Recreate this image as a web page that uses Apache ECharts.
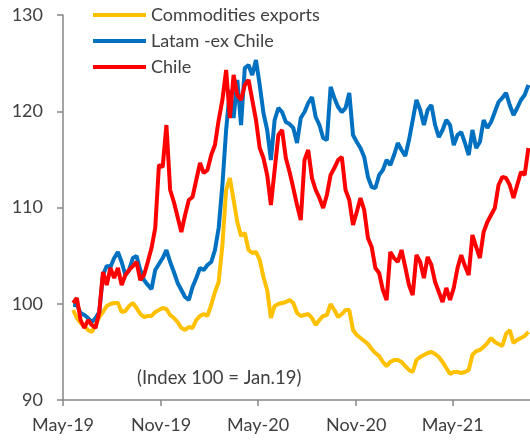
<!DOCTYPE html>
<html>
<head>
<meta charset="utf-8">
<style>
  html, body { margin: 0; padding: 0; background: #ffffff; }
  #chart { width: 530px; height: 440px; }
</style>
<script src="https://cdn.jsdelivr.net/npm/echarts@6/dist/echarts.min.js"></script>
</head>
<body>
<div id="chart"></div>
<script>
// Weekly observations, index 100 = Jan.19
const dates = [
  '2019-05-20','2019-05-27','2019-06-03','2019-06-10','2019-06-17','2019-06-24','2019-07-01','2019-07-08','2019-07-15','2019-07-22',
  '2019-07-29','2019-08-05','2019-08-12','2019-08-19','2019-08-26','2019-09-02','2019-09-09','2019-09-16','2019-09-23','2019-09-30',
  '2019-10-07','2019-10-14','2019-10-21','2019-10-28','2019-11-04','2019-11-11','2019-11-18','2019-11-25','2019-12-02','2019-12-09',
  '2019-12-16','2019-12-23','2019-12-30','2020-01-06','2020-01-13','2020-01-20','2020-01-27','2020-02-03','2020-02-10','2020-02-17',
  '2020-02-24','2020-03-02','2020-03-09','2020-03-16','2020-03-23','2020-03-30','2020-04-06','2020-04-13','2020-04-20','2020-04-27',
  '2020-05-04','2020-05-11','2020-05-18','2020-05-25','2020-06-01','2020-06-08','2020-06-15','2020-06-22','2020-06-29','2020-07-06',
  '2020-07-13','2020-07-20','2020-07-27','2020-08-03','2020-08-10','2020-08-17','2020-08-24','2020-08-31','2020-09-07','2020-09-14',
  '2020-09-21','2020-09-28','2020-10-05','2020-10-12','2020-10-19','2020-10-26','2020-11-02','2020-11-09','2020-11-16','2020-11-23',
  '2020-11-30','2020-12-07','2020-12-14','2020-12-21','2020-12-28','2021-01-04','2021-01-11','2021-01-18','2021-01-25','2021-02-01',
  '2021-02-08','2021-02-15','2021-02-22','2021-03-01','2021-03-08','2021-03-15','2021-03-22','2021-03-29','2021-04-05','2021-04-12',
  '2021-04-19','2021-04-26','2021-05-03','2021-05-10','2021-05-17','2021-05-24','2021-05-31','2021-06-07','2021-06-14','2021-06-21',
  '2021-06-28','2021-07-05','2021-07-12','2021-07-19','2021-07-26','2021-08-02','2021-08-09','2021-08-16','2021-08-23','2021-08-30',
  '2021-09-06','2021-09-13','2021-09-20'
];

const commodities = [
  99.35, 98.52, 97.99, 97.69, 97.27, 97.07, 97.79, 98.62, 99.14, 99.77,
  99.97, 100.08, 100.08, 99.14, 99.25, 99.77, 100.08, 99.56, 98.93, 98.62,
  98.73, 98.73, 99.14, 99.35, 99.56, 99.45, 98.83, 98.52, 98.10, 97.48,
  97.27, 97.58, 97.48, 98.31, 98.73, 98.93, 98.73, 99.87, 101.22, 102.26,
  106.10, 111.82, 113.06, 110.78, 108.49, 107.04, 107.35, 105.58, 105.27, 105.38,
  104.55, 102.78, 101.43, 98.52, 99.77, 99.97, 100.08, 100.18, 100.39, 100.08,
  99.04, 98.73, 98.83, 98.93, 98.52, 97.79, 98.31, 98.73, 98.83, 99.97,
  99.35, 98.62, 98.93, 99.35, 99.35, 97.27, 96.75, 96.44, 96.13, 95.82,
  95.30, 94.88, 94.57, 93.95, 93.53, 93.95, 94.16, 94.16, 93.95, 93.53,
  93.12, 92.91, 94.16, 94.47, 94.68, 94.88, 94.99, 94.78, 94.47, 93.95,
  93.32, 92.70, 92.91, 92.91, 92.81, 92.91, 93.12, 94.68, 95.09, 95.19,
  95.51, 95.92, 96.44, 96.03, 95.82, 95.61, 96.86, 97.27, 95.92, 96.23,
  96.44, 96.65, 97.07
];

const latamExChile = [
  99.87, 99.87, 99.04, 98.83, 98.52, 98.10, 98.52, 99.14, 102.99, 103.92,
  103.82, 104.75, 105.38, 104.34, 102.99, 103.51, 104.75, 104.96, 103.51, 102.47,
  101.95, 101.53, 103.51, 104.13, 104.75, 105.58, 104.34, 103.30, 102.16, 101.43,
  100.70, 100.39, 101.74, 102.67, 103.71, 103.51, 104.03, 104.34, 105.58, 107.87,
  112.34, 118.05, 122.21, 119.30, 123.25, 118.57, 124.49, 124.80, 123.77, 125.32,
  122.73, 119.82, 118.05, 114.93, 119.09, 120.34, 119.92, 118.88, 118.67, 118.26,
  116.70, 119.30, 119.92, 120.86, 121.48, 119.40, 118.57, 117.22, 117.01, 122.52,
  121.38, 120.44, 119.92, 120.34, 121.90, 117.53, 116.80, 116.18, 115.25, 113.17,
  112.13, 112.02, 113.38, 113.90, 114.93, 114.41, 115.45, 116.70, 115.97, 115.35,
  117.01, 119.09, 121.17, 120.13, 118.57, 120.13, 120.65, 118.57, 117.32, 118.05,
  119.09, 118.57, 116.49, 117.53, 117.84, 116.70, 115.45, 118.05, 116.18, 116.80,
  119.09, 118.26, 118.88, 119.92, 120.96, 121.38, 121.90, 120.65, 119.61, 120.34,
  121.17, 121.69, 122.73
];

const chile = [
  100.08, 100.60, 98.31, 97.48, 98.31, 97.79, 97.48, 99.14, 103.30, 101.95,
  103.71, 102.67, 103.71, 101.95, 102.99, 103.51, 103.92, 104.34, 102.47, 102.99,
  104.34, 105.79, 107.87, 114.42, 114.21, 118.57, 111.82, 110.57, 109.02, 107.46,
  109.22, 110.78, 111.09, 112.86, 114.62, 113.58, 113.90, 115.45, 116.49, 119.09,
  121.17, 124.29, 119.30, 123.77, 121.69, 121.17, 122.73, 123.25, 121.17, 119.09,
  116.18, 115.14, 113.38, 110.26, 113.90, 117.53, 118.05, 115.14, 113.69, 112.02,
  110.26, 108.70, 114.93, 115.97, 113.06, 111.82, 110.99, 109.95, 111.30, 113.38,
  114.10, 114.93, 115.25, 111.82, 110.78, 108.18, 109.53, 110.99, 109.74, 106.83,
  105.90, 103.71, 103.19, 101.43, 100.39, 105.38, 104.75, 104.34, 105.58, 103.82,
  101.95, 100.91, 105.06, 104.34, 102.67, 104.86, 104.03, 102.26, 101.22, 100.18,
  101.64, 100.39, 101.64, 103.71, 105.06, 103.92, 102.99, 107.14, 105.90, 104.75,
  107.46, 108.49, 109.22, 109.95, 112.34, 113.17, 113.06, 112.34, 110.99, 112.34,
  113.69, 113.38, 116.18
];

// Six-monthly ticks along the date axis
const tickDates = ['2019-05-01', '2019-11-01', '2020-05-01', '2020-11-01', '2021-05-01'];
const monthNames = ['Jan','Feb','Mar','Apr','May','Jun','Jul','Aug','Sep','Oct','Nov','Dec'];

const FONT = 'Lato, "Open Sans", sans-serif';
const TEXT_COLOR = '#404040';
const AXIS_COLOR = '#868686';

const toTime = d => Date.parse(d + 'T00:00:00Z');
const pairs = arr => arr.map((v, i) => [toTime(dates[i]), v]);
const tickTimes = tickDates.map(toTime);

const chart = echarts.init(document.getElementById('chart'), null, { renderer: 'canvas' });

chart.setOption({
  backgroundColor: '#ffffff',
  animation: false,
  grid: { left: 63, right: 0, top: 15, bottom: 40, containLabel: false },
  legend: {
    orient: 'vertical',
    left: 93,
    top: 5,
    padding: 0,
    itemWidth: 53,
    itemHeight: 4,
    itemGap: 6,
    icon: 'rect',
    textStyle: { fontFamily: FONT, fontSize: 18, color: TEXT_COLOR, lineHeight: 20 },
    data: ['Commodities exports', 'Latam -ex Chile', 'Chile']
  },
  xAxis: {
    type: 'value',
    min: toTime('2019-05-01'),
    max: toTime('2021-09-23'),
    splitLine: { show: false },
    axisLine: { show: true, lineStyle: { color: AXIS_COLOR, width: 1.5 } },
    axisTick: { show: true, length: 6, customValues: tickTimes, lineStyle: { color: AXIS_COLOR, width: 1.5 } },
    axisLabel: {
      customValues: tickTimes,
      margin: 16,
      fontFamily: FONT,
      fontSize: 18,
      color: TEXT_COLOR,
      formatter: v => {
        const d = new Date(v);
        return monthNames[d.getUTCMonth()] + '-' + String(d.getUTCFullYear()).slice(2);
      }
    }
  },
  yAxis: {
    type: 'value',
    min: 90,
    max: 130,
    interval: 10,
    splitLine: { show: false },
    axisLine: { show: true, lineStyle: { color: AXIS_COLOR, width: 1.5 } },
    axisTick: { show: true, length: 6, lineStyle: { color: AXIS_COLOR, width: 1.5 } },
    axisLabel: { margin: 20, fontFamily: FONT, fontSize: 18, color: TEXT_COLOR }
  },
  graphic: [{
    type: 'text',
    left: 137,
    top: 369,
    style: { text: '(Index 100 = Jan.19)', font: '18.5px ' + FONT, fill: TEXT_COLOR }
  }],
  series: [
    {
      name: 'Commodities exports', type: 'line', data: pairs(commodities),
      showSymbol: false, symbol: 'none', color: '#FFC000',
      lineStyle: { width: 4, color: '#FFC000' }
    },
    {
      name: 'Latam -ex Chile', type: 'line', data: pairs(latamExChile),
      showSymbol: false, symbol: 'none', color: '#0070C0',
      lineStyle: { width: 4, color: '#0070C0' }
    },
    {
      name: 'Chile', type: 'line', data: pairs(chile),
      showSymbol: false, symbol: 'none', color: '#FF0000',
      lineStyle: { width: 4, color: '#FF0000' }
    }
  ]
});
</script>
</body>
</html>
